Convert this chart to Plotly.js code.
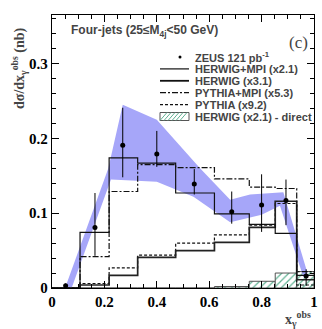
<!DOCTYPE html>
<html>
<head>
<meta charset="utf-8">
<script src="https://cdn.plot.ly/plotly-3.0.1.min.js"></script>
<style>
body { margin: 0; background: white; }
#plot { width: 322px; height: 329px; }
</style>
</head>
<body>
<div id="plot"></div>
<script>
// bin edges in x_gamma^obs
edges = [0, 0.107, 0.218, 0.327, 0.472, 0.62, 0.753, 0.852, 0.934, 1]

// MC histograms (already scaled)
herwigMpi = [0, 0.0745, 0.174, 0.167, 0.127, 0.099, 0.085, 0.073, 0.017]
herwig = [0, 0.004, 0.017, 0.041, 0.050, 0.061, 0.081, 0.116, 0.011]
pythiaMpi = [0, 0.042, 0.129, 0.165, 0.161, 0.146, 0.135, 0.133, 0.022]
pythia = [0, 0.006, 0.027, 0.044, 0.060, 0.071, 0.084, 0.113, 0.004]
herwigDirect = [0, 0, 0, 0, 0, 0.002, 0.009, 0.020, 0.022]

// ZEUS data
xData = [0.052, 0.164, 0.27, 0.40, 0.543, 0.686, 0.80, 0.893, 0.97]
yData = [0.003, 0.081, 0.191, 0.179, 0.139, 0.102, 0.111, 0.117, 0.016]
errUp = [0.003, 0.046, 0.050, 0.031, 0.020, 0.027, 0.041, 0.028, 0.009]
errDown = [0.003, 0.038, 0.043, 0.017, 0.014, 0.016, 0.036, 0.033, 0.013]

// shaded band
bandUpX = [0.05, 0.215, 0.27, 0.40, 0.565, 0.68, 0.756, 0.883, 0.975]
bandUpY = [0, 0.16, 0.245, 0.225, 0.16, 0.118, 0.125, 0.128, 0.02]
bandLoX = [0.075, 0.225, 0.40, 0.54, 0.68, 0.80, 0.87, 0.96]
bandLoY = [0, 0.145, 0.142, 0.122, 0.088, 0.098, 0.110, 0.014]

legendNames = ['ZEUS 121 pb<sup>-1</sup>', 'HERWIG+MPI (x2.1)', 'HERWIG (x3.1)',
               'PYTHIA+MPI (x5.3)', 'PYTHIA (x9.2)', 'HERWIG (x2.1) - direct']

function stepX() { return edges.slice(0) }
function stepY(v) { return v.concat([v[v.length - 1]]) }

var centers = [], widths = []
for (var i = 0; i < edges.length - 1; i++) {
    centers.push((edges[i] + edges[i + 1]) / 2)
    widths.push(edges[i + 1] - edges[i])
}

var band = {
    x: bandUpX.concat(bandLoX.slice().reverse()),
    y: bandUpY.concat(bandLoY.slice().reverse()),
    fill: 'toself',
    fillcolor: '#a6a6f9',
    line: {width: 0},
    mode: 'lines',
    hoverinfo: 'skip'
}

var direct = {
    type: 'bar',
    x: centers,
    y: herwigDirect,
    width: widths,
    marker: {
        color: 'white',
        pattern: {shape: '/', fgcolor: '#62b394', bgcolor: 'white', size: 5, solidity: 0.25},
        line: {color: '#555', width: 1}
    }
}

function hist(v, w, dash, color) {
    return {
        x: stepX(), y: stepY(v),
        mode: 'lines',
        line: {shape: 'hv', color: color, width: w, dash: dash}
    }
}

var tHerwigMpi = hist(herwigMpi, 1.2, 'solid', '#111')
var tHerwig = hist(herwig, 1.7, 'solid', '#222')
var tPythiaMpi = hist(pythiaMpi, 1.2, '6px,2px,2px,2px', '#111')
var tPythia = hist(pythia, 1.2, '3px,2px', '#111')

var zeus = {
    x: xData, y: yData,
    mode: 'markers',
    marker: {color: 'black', size: 5},
    error_y: {type: 'data', symmetric: false, array: errUp, arrayminus: errDown,
              width: 0, thickness: 1, color: 'black'}
}

var data = [band, direct, tPythia, tHerwig, tPythiaMpi, tHerwigMpi, zeus]

// pixel -> paper helpers (plot area 52..314 x 15..288)
var L = 52, R = 8, T = 15, B = 41, W = 322, H = 329
var pw = W - L - R, ph = H - T - B
function px(x) { return (x - L) / pw }
function py(y) { return (H - B - y) / ph }

var serif = 'Liberation Serif, Times New Roman, serif'
var sans = 'Liberation Sans, Arial, sans-serif'

var annotations = [
    {text: 'Four-jets (25≤M<sub>4j</sub>&lt;50 GeV)', x: px(69), y: py(31), xanchor: 'left',
     font: {family: sans, size: 12, weight: 'bold'}},
    {text: '(c)', x: px(298), y: py(42), font: {family: serif, size: 17}},
    {text: 'dσ/dx<sub>γ</sub><sup>obs</sup> (nb)', x: px(19), y: py(68), textangle: -90,
     font: {family: serif, size: 14, weight: 'bold'}},
    {text: 'x<sub>γ</sub><sup>obs</sup>', x: px(298), y: py(319),
     font: {family: serif, size: 14, weight: 'bold'}}
]
var shapes = []
var legDash = [null, 'solid', 'solid', '6px,2px,2px,2px', '3px,2px', null]
var legW = [0, 1.2, 1.8, 1.2, 1.2, 0]
for (var k = 0; k < legendNames.length; k++) {
    var yy = 57 + k * 11.9
    annotations.push({text: legendNames[k], x: px(193), y: py(yy), xanchor: 'left',
                      font: {family: sans, size: 11, weight: 'bold'}})
    if (legDash[k]) {
        shapes.push({type: 'line', x0: px(160), x1: px(189), y0: py(yy), y1: py(yy),
                     line: {color: '#111', width: legW[k], dash: legDash[k]}})
    }
}
// marker sample
shapes.push({type: 'circle', x0: px(178.5), x1: px(181.5), y0: py(55.5), y1: py(58.5),
             fillcolor: 'black', line: {width: 0}})
// hatched box sample
var hy = 57 + 5 * 11.9
shapes.push({type: 'rect', x0: px(160), x1: px(189), y0: py(hy + 4), y1: py(hy - 4),
             fillcolor: 'white', line: {color: '#555', width: 1}})
for (var h = 160; h <= 181; h += 4) {
    shapes.push({type: 'line', x0: px(h), x1: px(h + 7), y0: py(hy + 4), y1: py(hy - 4),
                 line: {color: '#62b394', width: 1}})
}
annotations.forEach(function (a) {
    a.xref = 'paper'; a.yref = 'paper'; a.showarrow = false
    if (!a.xanchor) a.xanchor = 'center'
    a.yanchor = 'middle'
})
shapes.forEach(function (s) { s.xref = 'paper'; s.yref = 'paper' })

var axisCommon = {
    showline: true, linecolor: 'black', linewidth: 1.2, mirror: 'ticks',
    ticks: 'inside', ticklen: 7, tickwidth: 1, tickcolor: 'black',
    showgrid: false, zeroline: false,
    tickfont: {family: serif, size: 15, weight: 'bold', color: 'black'}
}

var layout = {
    width: W, height: H,
    margin: {l: L, r: R, t: T, b: B},
    paper_bgcolor: 'white', plot_bgcolor: 'white',
    showlegend: false,
    barmode: 'overlay',
    xaxis: Object.assign({}, axisCommon, {range: [0, 1], dtick: 0.2, tick0: 0,
        minor: {ticks: 'inside', ticklen: 4, dtick: 0.05, tickcolor: 'black'}}),
    yaxis: Object.assign({}, axisCommon, {range: [0, 0.365], dtick: 0.1, tick0: 0,
        minor: {ticks: 'inside', ticklen: 4, dtick: 0.02, tickcolor: 'black'}}),
    annotations: annotations,
    shapes: shapes
}

Plotly.newPlot('plot', data, layout, {staticPlot: true})
</script>
</body>
</html>
